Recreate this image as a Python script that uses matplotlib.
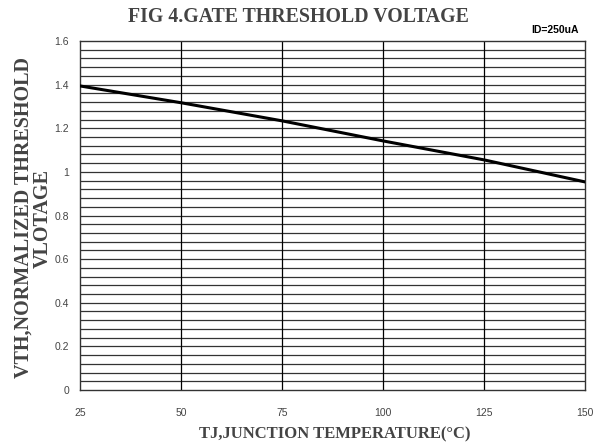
import matplotlib
matplotlib.use('Agg')
import matplotlib.pyplot as plt
import numpy as np

# 數據
temp = [25, 50, 75, 100, 125, 150]
vth_norm = [1.394, 1.317, 1.234, 1.142, 1.055, 0.954]
x_ticks = [25, 50, 75, 100, 125, 150]
y_ticks = [0, 0.2, 0.4, 0.6, 0.8, 1, 1.2, 1.4, 1.6]
y_tick_labels = ['0', '0.2', '0.4', '0.6', '0.8', '1', '1.2', '1.4', '1.6']

fig = plt.figure(figsize=(6.03, 4.48), dpi=100)
ax = fig.add_axes([80 / 603, 1 - 390 / 448, 505 / 603, 349 / 448])

# 水平細格線 (每 0.04)
for yv in np.arange(0.04, 1.6, 0.04):
    ax.axhline(yv, color='#333333', lw=0.9, zorder=1)
for xv in [50, 75, 100, 125]:
    ax.axvline(xv, color='black', lw=0.9, zorder=1)

ax.plot(temp, vth_norm, color='black', lw=2.2, zorder=3)

ax.set_xlim(25, 150)
ax.set_ylim(0, 1.6)
ax.set_xticks(x_ticks)
ax.set_yticks(y_ticks)
ax.set_yticklabels(y_tick_labels)
ax.tick_params(length=0, labelsize=7.5, colors='#444444', pad=8)
ax.tick_params(axis='x', pad=13)
for lab in ax.get_xticklabels() + ax.get_yticklabels():
    lab.set_family('Liberation Sans')
for s in ax.spines.values():
    s.set_color('#333333')
    s.set_linewidth(1.0)

fig.text(298 / 603, 1 - 17 / 448, 'FIG 4.GATE THRESHOLD VOLTAGE', ha='center', va='center',
         family='Liberation Serif', fontweight='bold', fontsize=14.3, color='#444444')
fig.text(555 / 603, 1 - 30 / 448, 'ID=250uA', ha='center', va='center',
         family='Liberation Sans', fontweight='bold', fontsize=7.5, color='black')
fig.text(335 / 603, 1 - 434 / 448, 'TJ,JUNCTION TEMPERATURE(°C)', ha='center', va='center',
         family='Liberation Serif', fontweight='bold', fontsize=12, color='#444444')
fig.text(33 / 603, 1 - 218 / 448, 'VTH,NORMALIZED THRESHOLD\nVLOTAGE', ha='center', va='center',
         rotation=90, family='Liberation Serif', fontweight='bold', fontsize=14.5,
         color='#444444', linespacing=0.95)

plt.savefig('out.png', dpi=100)
